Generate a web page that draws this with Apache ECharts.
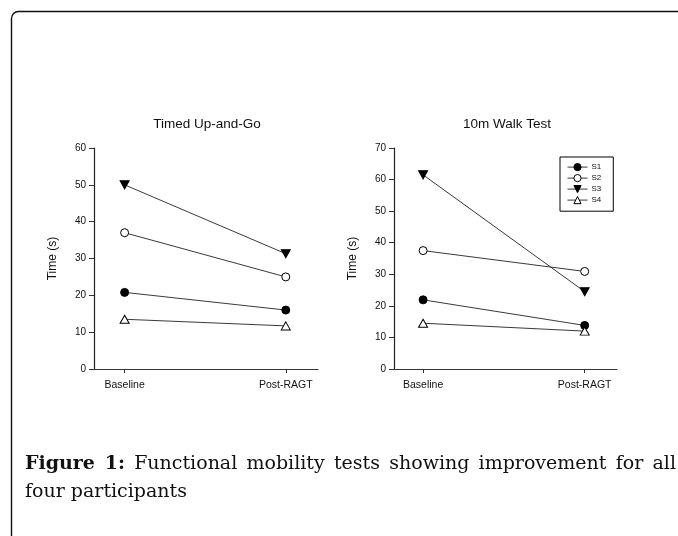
<!DOCTYPE html>
<html>
<head>
<meta charset="utf-8">
<script src="https://cdn.jsdelivr.net/npm/echarts@6/dist/echarts.min.js"></script>
<style>
  html, body { margin: 0; padding: 0; background: #fff; }
  #wrap { position: relative; width: 678px; height: 536px; overflow: hidden; }
  #chart { position: absolute; left: 0; top: 0; width: 678px; height: 536px; }
  #caption {
    position: absolute; left: 25px; top: 448px; width: 651px;
    font-family: "DejaVu Serif", "Liberation Serif", serif; font-size: 19px;
    line-height: 28px; color: #111; text-align: justify; text-align-last: left;
  }
  #caption b { font-weight: bold; }
</style>
</head>
<body>
<div id="wrap">
  <div id="chart"></div>
  <div id="caption"><b>Figure 1:</b> Functional mobility tests showing improvement for all four participants</div>
</div>
<script>
// ---- data ----
const categories = ['Baseline', 'Post-RAGT'];
const seriesNames = ['S1', 'S2', 'S3', 'S4'];
const titles = ['Timed Up-and-Go', '10m Walk Test'];
const yAxisName = 'Time (s)';
// Timed Up-and-Go
const tugS1 = [20.8, 16.0];
const tugS2 = [37.0, 25.0];
const tugS3 = [50.0, 31.3];
const tugS4 = [13.5, 11.7];
const tugMax = 60;
// 10m Walk Test
const walkS1 = [21.9, 13.8];
const walkS2 = [37.5, 30.9];
const walkS3 = [61.5, 24.5];
const walkS4 = [14.5, 12.0];
const walkMax = 70;
const yInterval = 10;

// ---- styles ----
const FONT = '"Liberation Sans", Arial, sans-serif';
const downTri = 'path://M0,0L10,0L5,9Z';
const markerStyles = [
  { symbol: 'circle', symbolSize: 8, itemStyle: { color: '#000', borderColor: '#000', borderWidth: 1 } },
  { symbol: 'circle', symbolSize: 8, itemStyle: { color: '#fff', borderColor: '#000', borderWidth: 1 } },
  { symbol: downTri, symbolSize: [9, 8], itemStyle: { color: '#000', borderColor: '#000', borderWidth: 1 } },
  { symbol: 'triangle', symbolSize: [9, 8], itemStyle: { color: '#fff', borderColor: '#000', borderWidth: 1 } }
];

const grids = [
  { left: 94, right: 360, top: 148, bottom: 167 },
  { left: 394, right: 61, top: 148, bottom: 167 }
];

function xAxisFor(i, minV) {
  return {
    type: 'value', gridIndex: i, min: minV, max: 1.2,
    axisLine: { show: true, onZero: false, lineStyle: { color: '#333', width: 1.2 } },
    splitLine: { show: false },
    axisTick: { show: true, customValues: [0, 1], length: 4, inside: false, lineStyle: { color: '#333' } },
    axisLabel: { customValues: [0, 1], formatter: v => categories[Math.round(v)], fontFamily: FONT, fontSize: 10.5, color: '#111', margin: 11 }
  };
}
function yAxisFor(i, maxV) {
  return {
    type: 'value', gridIndex: i, min: 0, max: maxV, interval: yInterval,
    name: yAxisName, nameLocation: 'middle', nameGap: 35,
    nameTextStyle: { fontFamily: FONT, fontSize: 12, color: '#111' },
    axisLine: { show: true, onZero: false, lineStyle: { color: '#222', width: 1.2 } },
    splitLine: { show: false },
    axisTick: { show: true, length: 5, lineStyle: { color: '#333' } },
    axisLabel: { fontFamily: FONT, fontSize: 10, color: '#111', margin: 8 }
  };
}

const tugData = [tugS1, tugS2, tugS3, tugS4];
const walkData = [walkS1, walkS2, walkS3, walkS4];
const series = [];
[tugData, walkData].forEach((set, gi) => {
  set.forEach((vals, si) => {
    series.push(Object.assign({
      type: 'line', name: seriesNames[si], xAxisIndex: gi, yAxisIndex: gi,
      data: vals.map((v, k) => [k, v]),
      lineStyle: { color: '#3a3a3a', width: 1 },
      emphasis: { disabled: true },
      animation: false, z: 3
    }, markerStyles[si]));
  });
});

const chart = echarts.init(document.getElementById('chart'), null, { renderer: 'canvas' });
chart.setOption({
  backgroundColor: '#fff',
  animation: false,
  title: [
    { text: titles[0], left: 207, top: 117, textAlign: 'center', padding: 0,
      textStyle: { fontFamily: FONT, fontSize: 13.5, fontWeight: 'normal', color: '#111' } },
    { text: titles[1], left: 507, top: 117, textAlign: 'center', padding: 0,
      textStyle: { fontFamily: FONT, fontSize: 13.5, fontWeight: 'normal', color: '#111' } }
  ],
  legend: {
    data: seriesNames, orient: 'vertical', left: 560, top: 157,
    itemWidth: 20, itemHeight: 9, itemGap: 2.8,
    padding: [6, 12, 7, 7], borderColor: '#000', borderWidth: 1,
    lineStyle: { width: 1 },
    itemStyle: { borderWidth: 1 },
    textStyle: { fontFamily: FONT, fontSize: 8, color: '#111', padding: [0, 0, 0, -1] },
    selectedMode: false
  },
  grid: grids,
  xAxis: [xAxisFor(0, -0.19), xAxisFor(1, -0.18)],
  yAxis: [yAxisFor(0, tugMax), yAxisFor(1, walkMax)],
  series: series,
  graphic: [{
    type: 'rect', silent: true, z: 0,
    shape: { x: 11.5, y: 11.5, width: 800, height: 700, r: 7 },
    style: { fill: 'none', stroke: '#111', lineWidth: 1.4 }
  }]
});
</script>
</body>
</html>
